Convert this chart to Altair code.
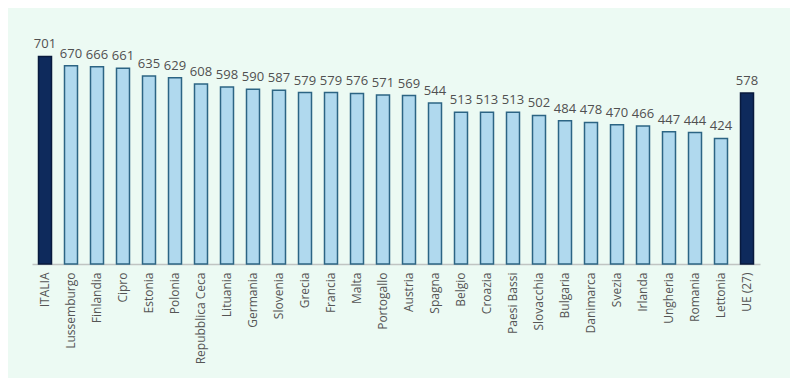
import altair as alt
import pandas as pd

paesi = ["ITALIA", "Lussemburgo", "Finlandia", "Cipro", "Estonia", "Polonia",
         "Repubblica Ceca", "Lituania", "Germania", "Slovenia", "Grecia", "Francia",
         "Malta", "Portogallo", "Austria", "Spagna", "Belgio", "Croazia",
         "Paesi Bassi", "Slovacchia", "Bulgaria", "Danimarca", "Svezia", "Irlanda",
         "Ungheria", "Romania", "Lettonia", "UE (27)"]
valori = [701, 670, 666, 661, 635, 629, 608, 598, 590, 587, 579, 579, 576, 571,
          569, 544, 513, 513, 513, 502, 484, 478, 470, 466, 447, 444, 424, 578]
evidenziati = ["ITALIA", "UE (27)"]

df = pd.DataFrame({"paese": paesi, "valore": valori})
df["gruppo"] = ["evid" if p in evidenziati else "altro" for p in paesi]

x = alt.X("paese:N", sort=paesi, title=None,
          scale=alt.Scale(paddingInner=0.5, paddingOuter=0.25),
          axis=alt.Axis(labelAngle=-90, labelAlign="right", labelBaseline="middle",
                        labelFontSize=12, labelColor="#555555", labelFont="Open Sans",
                        labelPadding=8, ticks=False, domainColor="#c0c4c2",
                        domainWidth=1.5))
y = alt.Y("valore:Q", title=None, scale=alt.Scale(domain=[0, 760]), axis=None)

base = alt.Chart(df).encode(x=x, y=y)

bars = base.mark_bar(strokeWidth=1.5).encode(
    color=alt.Color("gruppo:N", scale=alt.Scale(domain=["evid", "altro"],
                                                range=["#0e2a5c", "#b0d9ee"]), legend=None),
    stroke=alt.Stroke("gruppo:N", scale=alt.Scale(domain=["evid", "altro"],
                                                  range=["#081a3d", "#2c6584"]), legend=None),
)

labels = base.mark_text(dy=-12, fontSize=13, color="#505050", font="Open Sans").encode(
    text="valore:Q")

chart = (bars + labels).properties(
    width=728, height=225,
    padding={"left": 24, "top": 30, "right": 30, "bottom": 14},
    background="#ecfaf3",
).configure_view(stroke=None)

chart.save("out.html", embed_options={"renderer": "svg", "actions": False})
